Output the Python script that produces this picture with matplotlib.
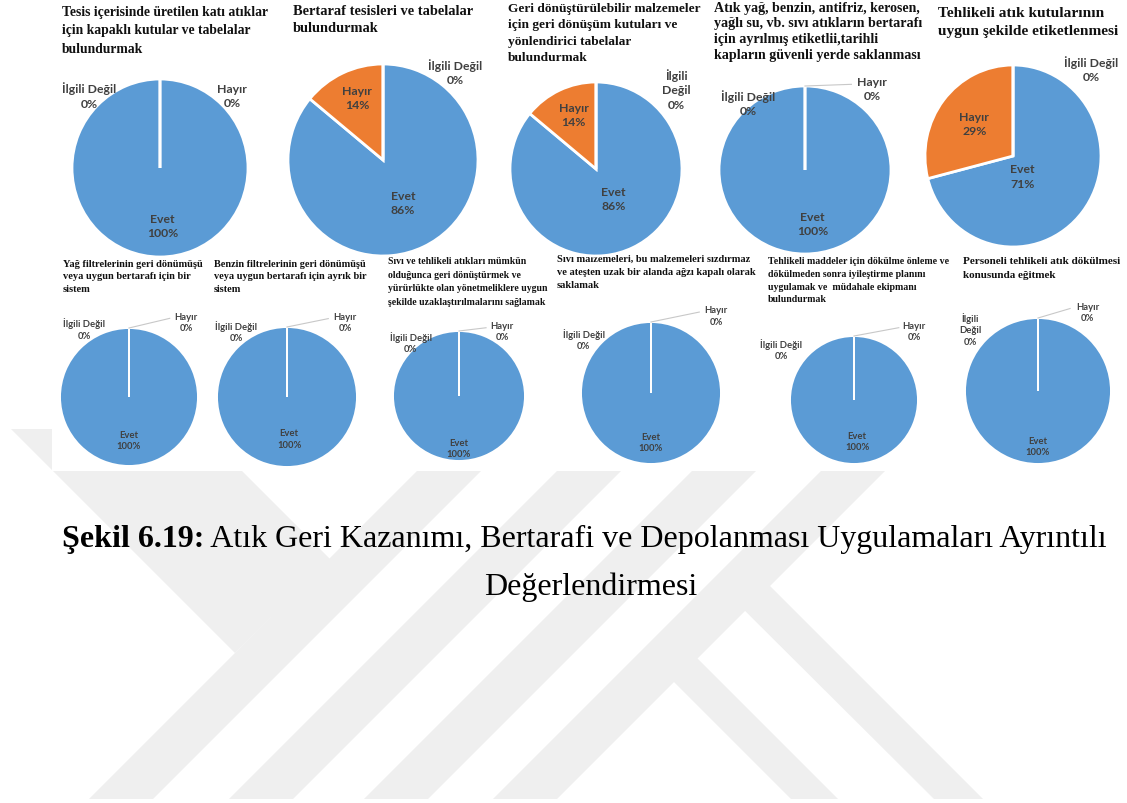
import matplotlib
matplotlib.use("Agg")
import matplotlib.pyplot as plt
from matplotlib.patches import Polygon, Rectangle

W, H = 1127, 804

# --- data -------------------------------------------------------------
titles = [
    "Tesis içerisinde üretilen katı atıklar\niçin kapaklı kutular ve tabelalar\nbulundurmak",
    "Bertaraf tesisleri ve tabelalar\nbulundurmak",
    "Geri dönüştürülebilir malzemeler\niçin geri dönüşüm kutuları ve\nyönlendirici tabelalar\nbulundurmak",
    "Atık yağ, benzin, antifriz, kerosen,\nyağlı su, vb. sıvı atıkların bertarafı\niçin ayrılmış etiketlii,tarihli\nkapların güvenli yerde saklanması",
    "Tehlikeli atık kutularının\nuygun şekilde etiketlenmesi",
    "Yağ filtrelerinin geri dönümüşü\nveya uygun bertarafı için bir\nsistem",
    "Benzin filtrelerinin geri dönümüşü\nveya uygun bertarafı için ayrık bir\nsistem",
    "Sıvı ve tehlikeli atıkları mümkün\nolduğunca geri dönüştürmek ve\nyürürlükte olan yönetmeliklere uygun\nşekilde uzaklaştırılmalarını sağlamak",
    "Sıvı malzemeleri, bu malzemeleri sızdırmaz\nve ateşten uzak bir alanda ağzı kapalı olarak\nsaklamak",
    "Tehlikeli maddeler için dökülme önleme ve\ndökülmeden sonra iyileştirme planını\nuygulamak ve  müdahale ekipmanı\nbulundurmak",
    "Personeli tehlikeli atık dökülmesi\nkonusunda eğitmek",
]
categories = ["Evet", "Hayır", "İlgili Değil"]
evet = [100, 86, 86, 100, 71, 100, 100, 100, 100, 100, 100]
hayir = [0, 14, 14, 0, 29, 0, 0, 0, 0, 0, 0]
ilgili = [0, 0, 0, 0, 0, 0, 0, 0, 0, 0, 0]

caption_bold = "Şekil 6.19:"
caption_rest = " Atık Geri Kazanımı, Bertarafi ve Depolanması Uygulamaları Ayrıntılı"
caption_line2 = "Değerlendirmesi"

# --- layout (pixels, y down) -------------------------------------------
centers = [(160, 169), (383, 161), (596, 170), (805, 171), (1013, 157),
           (129, 398), (287, 398), (459, 397), (651, 394), (854, 401), (1038, 392)]
radii = [(88, 89), (95, 96), (86, 87), (86, 84), (88, 91),
         (69, 69), (70, 70), (66, 65), (70, 71), (64, 64), (73, 73)]
# label positions in radius units: Evet, Hayır, İlgili Değil
label_pos = [
    [(0.03, -0.65), (0.82, 0.81), (-0.80, 0.82)],
    [(0.21, -0.44), (-0.27, 0.65), (0.76, 0.92)],
    [(0.20, -0.34), (-0.26, 0.63), (0.93, 0.92)],
    [(0.09, -0.64), (0.78, 0.97), (-0.66, 0.80)],
    [(0.11, -0.22), (-0.44, 0.36), (0.89, 0.96)],
    [(0.00, -0.62), (0.83, 1.09), (-0.65, 0.99)],
    [(0.03, -0.59), (0.83, 1.07), (-0.73, 0.94)],
    [(0.00, -0.80), (0.65, 1.00), (-0.73, 0.83)],
    [(0.00, -0.69), (0.93, 1.09), (-0.96, 0.76)],
    [(0.05, -0.64), (0.94, 1.08), (-1.14, 0.80)],
    [(0.00, -0.75), (0.68, 1.08), (-0.93, 0.85)],
]
ilgili_wrap = [False, False, True, False, False, False, False, False, False, False, True]
leader = [False, False, False, True, False, True, True, True, True, True, True]
# title: left x, first line centre y, target width, line spacing px
title_lay = [
    (62, 13, 206, 15), (293, 12, 180, 15), (508, 10, 194, 14.3), (714, 9, 208, 12.8),
    (938, 15, 182, 17),
    (63, 265, 141, 11.5), (214, 265, 154, 11.5), (388, 262, 160, 11.8),
    (557, 260, 200, 12), (768, 262, 181, 11), (963, 263, 158, 13.5),
]

BLUE = "#5b9bd5"
ORANGE = "#ed7d31"
GREY = "#a5a5a5"
LABEL_C = "#404040"
WM = "#efefef"

fig = plt.figure(figsize=(W / 100, H / 100), dpi=100)
fig.patch.set_facecolor("white")
bg = fig.add_axes([0, 0, 1, 1])
bg.set_xlim(0, W)
bg.set_ylim(H, 0)
bg.axis("off")
renderer = fig.canvas.get_renderer()

# faint watermark behind the figure (pixel outlines)
wm_shapes = [
    [(11, 430), (200, 430), (330, 560), (235, 654)],
    [(89, 800), (153, 800), (481, 472), (417, 472)],
    [(229, 800), (293, 800), (621, 472), (557, 472)],
    [(364, 800), (428, 800), (756, 472), (692, 472)],
    [(493, 800), (557, 800), (885, 472), (821, 472)],
    [(713, 580), (770, 587), (983, 800), (934, 800)],
    [(642, 651), (697, 659), (838, 800), (791, 800)],
]
for s in wm_shapes:
    bg.add_patch(Polygon(s, closed=True, fc=WM, ec="none", zorder=0))
bg.add_patch(Rectangle((52, 0), W - 52, 472, fc="white", ec="none", zorder=1))

# titles, fitted to the width seen in the picture
for i, t in enumerate(titles):
    x, yc, tw, sp = title_lay[i]
    txt = bg.text(x, yc, t, ha="left", va="top", family="Liberation Serif",
                  weight="bold", fontsize=10, color="#111111", zorder=3)
    w = txt.get_window_extent(renderer).width
    fs = 10 * tw / w
    txt.set_fontsize(fs)
    fpx = fs * 100 / 72
    txt.set_linespacing(sp / (fpx * 0.72))
    txt.set_y(yc - 0.52 * fpx)

# pies
for i in range(11):
    cx, cy = centers[i]
    rx, ry = radii[i]
    ax = fig.add_axes([(cx - rx) / W, 1 - (cy + ry) / H, 2 * rx / W, 2 * ry / H])
    vals = [evet[i], hayir[i], ilgili[i]]
    top = i < 5
    ax.pie(vals, colors=[BLUE, ORANGE, GREY], startangle=90, counterclock=False,
           wedgeprops=dict(edgecolor="white", linewidth=2.0 if top else 1.4))
    ax.set_aspect("auto")
    ax.set_xlim(-1, 1)
    ax.set_ylim(-1, 1)
    ax.axis("off")
    fs = 8.8 if top else 6.8
    for j, (name, v) in enumerate(zip(categories, vals)):
        if j == 2 and ilgili_wrap[i]:
            name = "İlgili\nDeğil"
        px, py = label_pos[i][j]
        ax.text(px, py, f"{name}\n{v}%", ha="center", va="center", fontsize=fs,
                family="Lato", weight="bold", color=LABEL_C, linespacing=1.35,
                clip_on=False)
    if leader[i]:
        hx, hy = label_pos[i][1]
        ax.plot([0, hx - 0.24], [1, hy + 0.05], color="#c8c8c8", lw=0.8,
                clip_on=False)

# caption
t1 = bg.text(0, 547, caption_bold, ha="left", va="baseline", family="Liberation Serif",
             weight="bold", fontsize=20, zorder=3)
t2 = bg.text(0, 547, caption_rest, ha="left", va="baseline", family="Liberation Serif",
             fontsize=20, zorder=3)
w1 = t1.get_window_extent(renderer).width
w2 = t2.get_window_extent(renderer).width
fs = 20 * 1048 / (w1 + w2)
t1.set_fontsize(fs)
t2.set_fontsize(fs)
w1 = t1.get_window_extent(renderer).width
t1.set_x(62)
t2.set_x(62 + w1)
bg.text(591, 595, caption_line2, ha="center", va="baseline", family="Liberation Serif",
        fontsize=fs, zorder=3)

fig.savefig("out.png", dpi=100)
